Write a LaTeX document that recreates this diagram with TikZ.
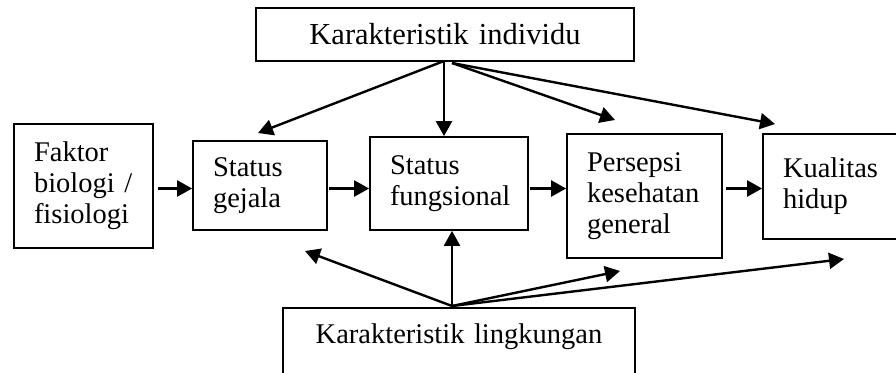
\documentclass[tikz,border=0pt]{standalone}
\usepackage{fontspec}
\setmainfont{Liberation Serif}
\usetikzlibrary{arrows.meta}
\hfuzz=10pt
\begin{document}
\begin{tikzpicture}[x=1pt,y=-1pt,
    box/.style={draw,line width=1.8pt,inner xsep=20pt,inner ysep=0pt,align=left,
      font=\fontsize{28.5}{31}\selectfont},
    wide/.style={box,align=center,inner xsep=0pt,text width=#1-2pt,minimum width=#1},
    link/.style={-{Triangle[length=15pt,width=16pt]},line width=2.4pt}]
  \useasboundingbox (0,0) rectangle (896,372);
  \clip (0,0) rectangle (896,372);
  \draw
    (445,34.5) node[wide=378pt,minimum height=53pt,font=\fontsize{30.5}{32}\selectfont] (indiv){Karakteristik individu}
    (83.5,186) node[box,text width=99pt,minimum height=124pt] (faktor){Faktor\\biologi /\\fisiologi}
    (260,185.5) node[box,text width=94pt,minimum height=89pt] (gejala){Status\\gejala}
    (449,183.5) node[box,text width=118pt,minimum height=93pt] (fungs){Status\\fungsional}
    (644.5,196) node[box,text width=115pt,minimum height=124pt] (persepsi){Persepsi\\kesehatan\\general}
    (841.5,186.5) node[box,text width=117pt,minimum height=105pt] (kualitas){Kualitas\\hidup}
    (459,307) node[wide=352pt,text height=36pt,text depth=50pt,anchor=north] (lingk){Karakteristik lingkungan};
  % ends of the free arrows
  \coordinate (row) at (0,188.5);
  \coordinate (itop) at (444,61);
  \coordinate (itop2) at (452,63);
  \coordinate (src) at (452,306);
  \coordinate (t1) at (258,133);
  \coordinate (t3) at (615,120);
  \coordinate (t4) at (775,124);
  \coordinate (b1) at (305,251);
  \coordinate (b3) at (620,271);
  \coordinate (b4) at (844,259);
  \begin{scope}[link]
    \draw[shorten <=4pt] (faktor.east |- row) to (gejala.west |- row);
    \draw[shorten <=1pt] (gejala.east |- row) to (fungs.west |- row);
    \draw[shorten <=1pt] (fungs.east |- row) to (persepsi.west |- row);
    \draw[shorten <=3pt] (persepsi.east |- row) to (kualitas.west |- row);
    \draw (itop) to (t1);
    \draw (itop) to (itop |- fungs.north);
    \draw (itop2) to (t3);
    \draw (itop2) to (t4);
    \draw (src) to (b1);
    \draw (src) to (src |- fungs.south);
    \draw (src) to (b3);
    \draw (src) to (b4);
  \end{scope}
\end{tikzpicture}
\end{document}
